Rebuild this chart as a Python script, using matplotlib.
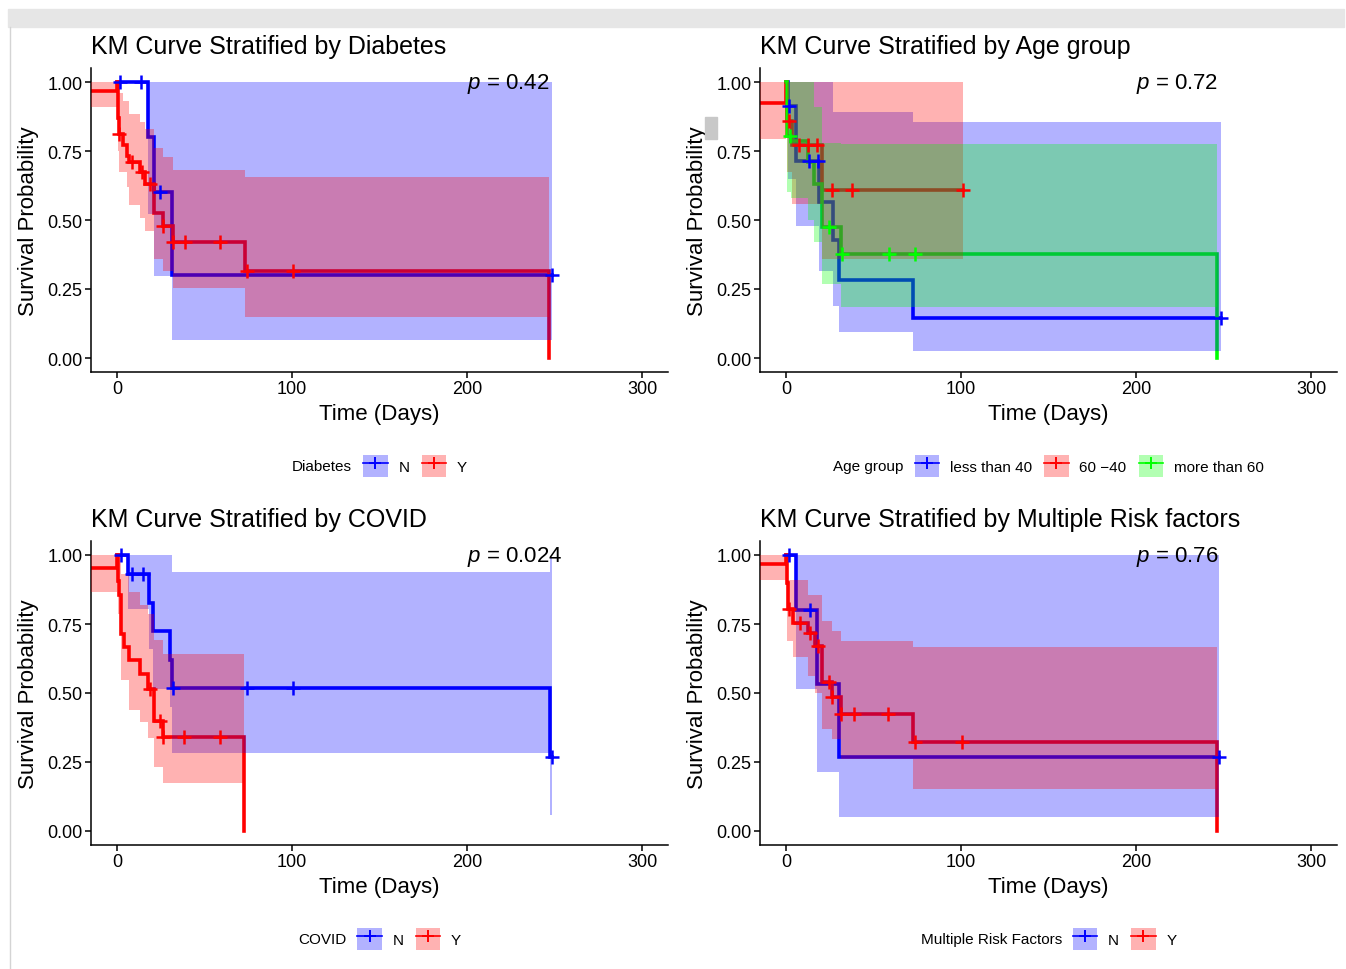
import numpy as np
import matplotlib
matplotlib.use("Agg")
import matplotlib.pyplot as plt
from matplotlib.patches import Patch, Rectangle
from matplotlib.lines import Line2D

plt.rcParams["font.family"] = ["Liberation Sans", "DejaVu Sans"]
plt.rcParams["mathtext.fontset"] = "custom"
plt.rcParams["mathtext.it"] = "Liberation Sans:italic"
plt.rcParams["mathtext.rm"] = "Liberation Sans"

BLUE, RED, GREEN = "#0000FF", "#FF0000", "#00FF00"
nan = np.nan

# ---- Diabetes ----
dia_n_t = [0, 17.9, 21.2, 31.2]
dia_n_s = [1.0, 0.80, 0.603, 0.30]
dia_n_lo = [1.0, 0.52, 0.296, 0.065]
dia_n_hi = [1.0, 1.0, 1.0, 1.0]
dia_n_end = 248.4
dia_n_cens = [1.7, 13.7, 24.3, 248.4]

dia_y_t = [-15, 0, 0.3, 0.7, 1.0, 3.6, 5.5, 7, 13, 16, 21, 26, 32, 73, 247]
dia_y_s = [0.968, 1.0, 0.935, 0.87, 0.81, 0.77, 0.733, 0.709, 0.673, 0.63, 0.525, 0.477, 0.419, 0.316, 0.0]
dia_y_lo = [0.908, 1.0, 0.82, 0.75, 0.673, 0.673, 0.62, 0.555, 0.509, 0.46, 0.359, 0.316, 0.255, 0.149, nan]
dia_y_hi = [1.0, 1.0, 1.0, 0.98, 0.96, 0.93, 0.93, 0.885, 0.855, 0.83, 0.76, 0.727, 0.681, 0.656, nan]
dia_y_end = 247
dia_y_cens = [1.2, 8.4, 14.1, 18.9, 26.5, 32.2, 38.8, 58.9, 74.1, 100.8]

# ---- Age group ----
age_a_t = [0, 1.0, 5.7, 19, 26.7, 30.5, 72.7]
age_a_s = [1.0, 0.914, 0.715, 0.566, 0.429, 0.284, 0.144]
age_a_lo = [1.0, 0.65, 0.48, 0.316, 0.19, 0.093, 0.026]
age_a_hi = [1.0, 1.0, 1.0, 1.0, 0.89, 0.89, 0.854]
age_a_end = 248.4
age_a_cens = [1.5, 13.3, 18.5, 248.4]

age_b_t = [-15, 0, 0.5, 3.2, 20.4]
age_b_s = [0.923, 1.0, 0.86, 0.77, 0.609]
age_b_lo = [0.793, 1.0, 0.673, 0.558, 0.359]
age_b_hi = [1.0, 1.0, 1.0, 1.0, 1.0]
age_b_end = 100.9
age_b_cens = [1.9, 7.6, 12.8, 17.9, 26.1, 37.5, 100.9]

age_c_t = [0, 0.6, 3.0, 12.7, 16.2, 20.5, 31.2, 246.5]
age_c_s = [1.0, 0.805, 0.787, 0.709, 0.63, 0.474, 0.377, 0.0]
age_c_lo = [1.0, 0.60, 0.58, 0.50, 0.42, 0.268, 0.185, nan]
age_c_hi = [1.0, 1.0, 1.0, 1.0, 0.91, 0.78, 0.775, nan]
age_c_end = 246.5
age_c_cens = [2.5, 24.8, 32.0, 59, 73.7]

# ---- COVID ----
cov_n_t = [0, 6.1, 18.0, 20.8, 30.5, 31.5, 247.4]
cov_n_s = [1.0, 0.931, 0.825, 0.724, 0.62, 0.518, 0.269]
cov_n_lo = [1.0, 0.804, 0.66, 0.514, 0.45, 0.281, 0.058]
cov_n_hi = [1.0, 1.0, 1.0, 1.0, 1.0, 0.94, 0.99]
cov_n_end = 248.4
cov_n_cens = [2.5, 8.4, 15.1, 32.2, 74.1, 100.8, 248.4]

cov_y_t = [-15, 0, 0.5, 1.2, 2.0, 2.5, 4.2, 6.8, 13.1, 17.9, 21.0, 26.3, 72.6]
cov_y_s = [0.953, 1.0, 0.907, 0.855, 0.78, 0.714, 0.665, 0.62, 0.569, 0.514, 0.40, 0.339, 0.0]
cov_y_lo = [0.865, 1.0, 0.786, 0.786, 0.70, 0.547, 0.547, 0.44, 0.395, 0.337, 0.232, 0.175, nan]
cov_y_hi = [1.0, 1.0, 1.0, 1.0, 0.93, 0.93, 0.93, 0.865, 0.82, 0.786, 0.692, 0.641, nan]
cov_y_end = 72.6
cov_y_cens = [18.9, 24.7, 26.5, 38.3, 58.9]

# ---- Multiple risk factors ----
mrf_n_t = [0, 5.7, 17.5, 30.5]
mrf_n_s = [1.0, 0.80, 0.533, 0.267]
mrf_n_lo = [1.0, 0.514, 0.213, 0.052]
mrf_n_hi = [1.0, 1.0, 1.0, 1.0]
mrf_n_end = 247.5
mrf_n_cens = [1.9, 13.7, 247.5]

mrf_y_t = [-15, 0, 0.5, 1.0, 4.2, 12.8, 16.6, 20.4, 26.1, 31.2, 72.8, 246.5]
mrf_y_s = [0.967, 1.0, 0.90, 0.804, 0.752, 0.716, 0.671, 0.539, 0.487, 0.424, 0.321, 0.0]
mrf_y_lo = [0.909, 1.0, 0.69, 0.69, 0.63, 0.56, 0.50, 0.37, 0.333, 0.26, 0.152, nan]
mrf_y_hi = [1.0, 1.0, 0.91, 0.91, 0.91, 0.855, 0.855, 0.762, 0.723, 0.687, 0.666, nan]
mrf_y_end = 246.5
mrf_y_cens = [1.9, 8.0, 13.7, 18.5, 24.6, 26.5, 31.6, 38.9, 58.5, 73.5, 100.4]

panels = [
    ("KM Curve Stratified by Diabetes", "Diabetes", "0.42", [
        ("N", BLUE, dia_n_t, dia_n_s, dia_n_lo, dia_n_hi, dia_n_end, dia_n_cens),
        ("Y", RED, dia_y_t, dia_y_s, dia_y_lo, dia_y_hi, dia_y_end, dia_y_cens)]),
    ("KM Curve Stratified by Age group", "Age group", "0.72", [
        ("less than 40", BLUE, age_a_t, age_a_s, age_a_lo, age_a_hi, age_a_end, age_a_cens),
        ("60 \u221240", RED, age_b_t, age_b_s, age_b_lo, age_b_hi, age_b_end, age_b_cens),
        ("more than 60", GREEN, age_c_t, age_c_s, age_c_lo, age_c_hi, age_c_end, age_c_cens)]),
    ("KM Curve Stratified by COVID", "COVID", "0.024", [
        ("N", BLUE, cov_n_t, cov_n_s, cov_n_lo, cov_n_hi, cov_n_end, cov_n_cens),
        ("Y", RED, cov_y_t, cov_y_s, cov_y_lo, cov_y_hi, cov_y_end, cov_y_cens)]),
    ("KM Curve Stratified by Multiple Risk factors", "Multiple Risk Factors", "0.76", [
        ("N", BLUE, mrf_n_t, mrf_n_s, mrf_n_lo, mrf_n_hi, mrf_n_end, mrf_n_cens),
        ("Y", RED, mrf_y_t, mrf_y_s, mrf_y_lo, mrf_y_hi, mrf_y_end, mrf_y_cens)]),
]

W, H = 1346, 970


def px_rect(x0, y0, x1, y1):
    return [x0 / W, 1 - y1 / H, (x1 - x0) / W, (y1 - y0) / H]


rects = [
    px_rect(90.75, 69.2, 668.25, 372.8),
    px_rect(759.75, 69.2, 1337.25, 372.8),
    px_rect(90.75, 542.2, 668.25, 845.8),
    px_rect(759.75, 542.2, 1337.25, 845.8),
]

fig = plt.figure(figsize=(W / 100, H / 100), dpi=100)

# screenshot frame
fig.patches.append(Rectangle((8 / W, 1 - 28 / H), (1344 - 8) / W, 18 / H,
                             transform=fig.transFigure, color="#e6e6e6", zorder=0))
fig.lines.append(Line2D([10 / W, 10 / W], [0, 1 - 28 / H], transform=fig.transFigure,
                        color="#d4d4d4", lw=1))
fig.patches.append(Rectangle((705 / W, 1 - 140 / H), 12 / W, 22 / H,
                             transform=fig.transFigure, color="#c8c8c8", zorder=0))

legends = []
for rect, (title, strat, pval, groups) in zip(rects, panels):
    ax = fig.add_axes(rect)
    handles = []
    for name, color, t, s, lo, hi, t_end, cens in groups:
        t = np.asarray(t, float)
        s = np.asarray(s, float)
        lo = np.asarray(lo, float)
        hi = np.asarray(hi, float)
        ax.plot(np.append(t, t_end), np.append(s, s[-1]), drawstyle="steps-post",
                color=color, lw=2.6, zorder=2, solid_joinstyle="miter")
        ok = np.isfinite(lo)
        ax.fill_between(np.append(t[ok], t_end), np.append(lo[ok], lo[ok][-1]),
                        np.append(hi[ok], hi[ok][-1]), step="post",
                        color=color, alpha=0.3, lw=0, zorder=3)
        handles.append(((Patch(facecolor=color, alpha=0.3, edgecolor="none"),
                         Line2D([], [], color=color, lw=1.2, marker="+", ms=9, mew=1.4)), name))
    for name, color, t, s, lo, hi, t_end, cens in groups:
        idx = np.searchsorted(t, cens, side="right") - 1
        ax.plot(cens, np.asarray(s)[idx], ls="none", marker="+", ms=10, mew=1.8,
                color=color, zorder=4)

    ax.set_xlim(-15, 315)
    ax.set_ylim(-0.05, 1.05)
    ax.set_xticks([0, 100, 200, 300])
    ax.set_yticks([0, 0.25, 0.5, 0.75, 1.0])
    ax.set_yticklabels(["0.00", "0.25", "0.50", "0.75", "1.00"])
    ax.tick_params(labelsize=13, length=4, width=1.1, pad=2, colors="black")
    for side in ("top", "right"):
        ax.spines[side].set_visible(False)
    for side in ("left", "bottom"):
        ax.spines[side].set_linewidth(1.1)
    ax.set_xlabel("Time (Days)", fontsize=16, labelpad=4)
    ax.set_ylabel("Survival Probability", fontsize=16, labelpad=6)
    ax.set_title(title, loc="left", fontsize=18, pad=11)
    ax.text(200, 0.995, f"$p$ = {pval}", fontsize=16, ha="left", va="center")

    leg = ax.legend([h for h, _ in handles], [n for _, n in handles], loc="center left",
                    bbox_to_anchor=(0.5, -0.31), ncol=len(handles), frameon=False,
                    fontsize=11, handlelength=1.6, handleheight=1.8, handletextpad=0.7,
                    columnspacing=0.8, borderpad=0, borderaxespad=0)
    lab = ax.text(0.5, -0.31, strat, transform=ax.transAxes, ha="right", va="center",
                  fontsize=11)
    legends.append((ax, leg, lab))

fig.canvas.draw()
renderer = fig.canvas.get_renderer()
gap = 11
for ax, leg, lab in legends:
    axw = ax.get_window_extent(renderer).width
    lw = leg.get_window_extent(renderer).width
    tw = lab.get_window_extent(renderer).width
    total = tw + gap + lw
    x_c = 0.5 + (-total / 2 + tw + gap) / axw
    leg.set_bbox_to_anchor((x_c, -0.31), transform=ax.transAxes)
    lab.set_position((x_c - gap / axw, -0.31))

fig.savefig("out.png", dpi=100, facecolor="white")
